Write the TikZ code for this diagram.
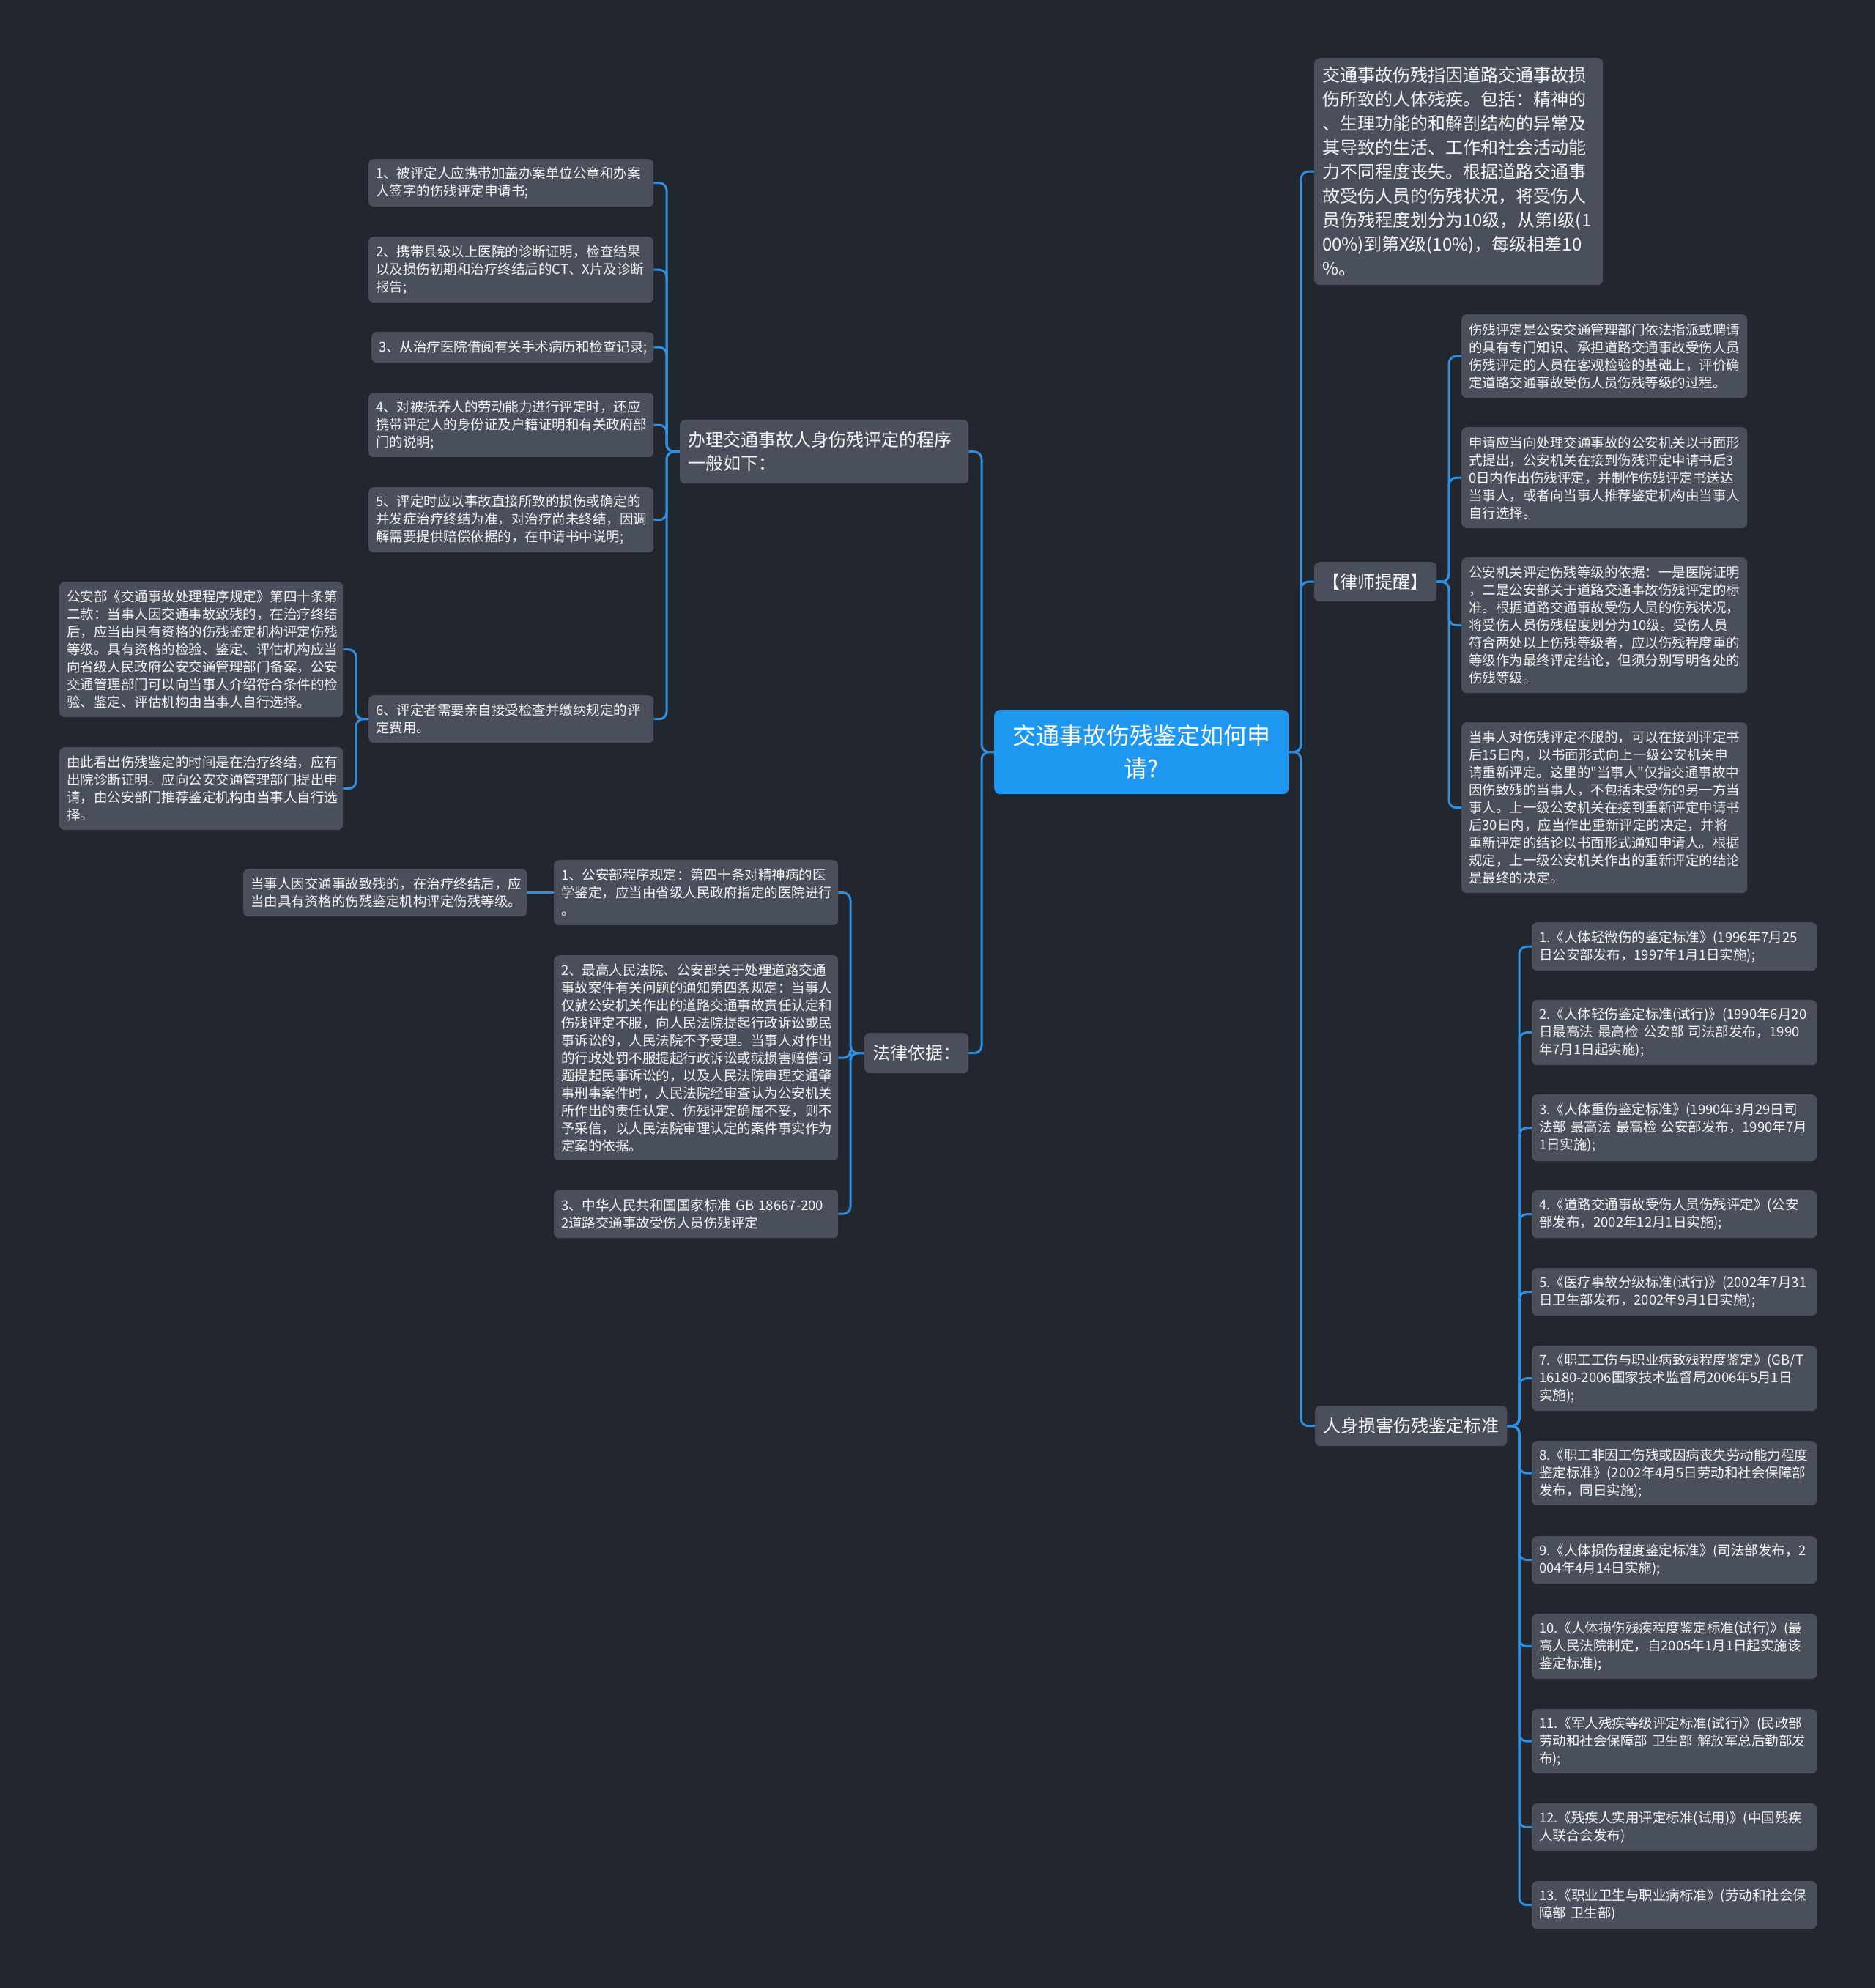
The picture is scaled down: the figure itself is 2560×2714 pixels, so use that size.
\documentclass[tikz,border=0pt]{standalone}
\usepackage{fontspec}
\newfontfamily\cjk{Noto Sans CJK SC}
\definecolor{bgc}{HTML}{22262F}
\definecolor{boxc}{HTML}{4A4F5C}
\definecolor{rootc}{HTML}{1D97F0}
\definecolor{linec}{HTML}{2F8FE0}
\definecolor{txtc}{HTML}{F4F4F4}
\pgfdeclarelayer{bgl}
\pgfdeclarelayer{connl}
\pgfsetlayers{bgl,connl,main}
\tikzset{
  leaf/.style={fill=boxc, rounded corners=7pt, text=txtc, align=left, inner xsep=10pt, inner ysep=0pt,
    font=\cjk\fontsize{18.5}{24}\selectfont, anchor=north west},
  branch/.style={fill=boxc, rounded corners=7pt, text=txtc, align=left, inner xsep=11pt, inner ysep=0pt,
    font=\cjk\fontsize{24}{32}\selectfont, anchor=north west},
  rootbox/.style={fill=rootc, rounded corners=8pt, text=white, align=center, inner xsep=11pt, inner ysep=0pt,
    font=\cjk\fontsize{32}{45}\selectfont, anchor=north west},
  conn/.style={draw=linec, line width=3pt, rounded corners=10pt},
}
\begin{document}
\begin{tikzpicture}[x=1pt,y=-1pt]
\useasboundingbox (0,0) rectangle (2560,2714);
\begin{pgfonlayer}{bgl}
\fill[bgc] (0,0) rectangle (2560,2714);
\end{pgfonlayer}

% trunk coordinates
\coordinate (tL) at (1340,0);
\coordinate (tR) at (1776,0);
\coordinate (tP) at (910,0);
\coordinate (tN) at (486,0);
\coordinate (tW) at (1161,0);
\coordinate (tT) at (1978,0);
\coordinate (tS) at (2074,0);

% root
\node[rootbox, text width=380pt, minimum height=115pt] (root) at (1357,969) {交通事故伤残鉴定如何申\\请?};

% left: procedure
\node[branch, text width=372pt, minimum height=87pt] (proc) at (928,573) {办理交通事故人身伤残评定的程序\\一般如下：};
\node[leaf, text width=369pt, minimum height=65pt] (n1) at (503,217) {1、被评定人应携带加盖办案单位公章和办案\\人签字的伤残评定申请书;};
\node[leaf, text width=369pt, minimum height=90pt] (n2) at (503,323) {2、携带县级以上医院的诊断证明，检查结果\\以及损伤初期和治疗终结后的CT、X片及诊断\\报告;};
\node[leaf, text width=365pt, minimum height=42pt] (n3) at (507,453) {3、从治疗医院借阅有关手术病历和检查记录;};
\node[leaf, text width=369pt, minimum height=88pt] (n4) at (503,536) {4、对被抚养人的劳动能力进行评定时，还应\\携带评定人的身份证及户籍证明和有关政府部\\门的说明;};
\node[leaf, text width=369pt, minimum height=89pt] (n5) at (503,665) {5、评定时应以事故直接所致的损伤或确定的\\并发症治疗终结为准，对治疗尚未终结，因调\\解需要提供赔偿依据的，在申请书中说明;};
\node[leaf, text width=369pt, minimum height=65pt] (n6) at (503,949) {6、评定者需要亲自接受检查并缴纳规定的评\\定费用。};
\node[leaf, text width=367pt, minimum height=185pt] (na) at (81,794) {公安部《交通事故处理程序规定》第四十条第\\二款：当事人因交通事故致残的，在治疗终结\\后，应当由具有资格的伤残鉴定机构评定伤残\\等级。具有资格的检验、鉴定、评估机构应当\\向省级人民政府公安交通管理部门备案，公安\\交通管理部门可以向当事人介绍符合条件的检\\验、鉴定、评估机构由当事人自行选择。};
\node[leaf, text width=367pt, minimum height=113pt] (nb) at (81,1020) {由此看出伤残鉴定的时间是在治疗终结，应有\\出院诊断证明。应向公安交通管理部门提出申\\请，由公安部门推荐鉴定机构由当事人自行选\\择。};

% left: law
\node[branch, minimum width=142pt, minimum height=55pt] (law) at (1180,1410) {法律依据：};
\node[leaf, text width=368pt, minimum height=89pt] (law1) at (756,1174) {1、公安部程序规定：第四十条对精神病的医\\学鉴定，应当由省级人民政府指定的医院进行\\。};
\node[leaf, text width=368pt, minimum height=280pt] (law2) at (756,1304) {2、最高人民法院、公安部关于处理道路交通\\事故案件有关问题的通知第四条规定：当事人\\仅就公安机关作出的道路交通事故责任认定和\\伤残评定不服，向人民法院提起行政诉讼或民\\事诉讼的，人民法院不予受理。当事人对作出\\的行政处罚不服提起行政诉讼或就损害赔偿问\\题提起民事诉讼的，以及人民法院审理交通肇\\事刑事案件时，人民法院经审查认为公安机关\\所作出的责任认定、伤残评定确属不妥，则不\\予采信，以人民法院审理认定的案件事实作为\\定案的依据。};
\node[leaf, text width=368pt, minimum height=66pt] (law3) at (756,1624) {3、中华人民共和国国家标准 GB 18667-200\\2道路交通事故受伤人员伤残评定};
\node[leaf, text width=367pt, minimum height=65pt] (leafl) at (332,1186) {当事人因交通事故致残的，在治疗终结后，应\\当由具有资格的伤残鉴定机构评定伤残等级。};

% right: definition
\node[branch, text width=372pt, minimum height=310pt, font=\cjk\fontsize{24}{33}\selectfont] (def) at (1794,79) {交通事故伤残指因道路交通事故损\\伤所致的人体残疾。包括：精神的\\、生理功能的和解剖结构的异常及\\其导致的生活、工作和社会活动能\\力不同程度丧失。根据道路交通事\\故受伤人员的伤残状况，将受伤人\\员伤残程度划分为10级，从第I级(1\\00\%)到第X级(10\%)，每级相差10\\\%。};

% right: lawyer tips
\node[branch, minimum width=167pt, minimum height=54pt] (lawyer) at (1794,767) {【律师提醒】};
\node[leaf, text width=370pt, minimum height=114pt] (tip1) at (1995,429) {伤残评定是公安交通管理部门依法指派或聘请\\的具有专门知识、承担道路交通事故受伤人员\\伤残评定的人员在客观检验的基础上，评价确\\定道路交通事故受伤人员伤残等级的过程。};
\node[leaf, text width=370pt, minimum height=138pt] (tip2) at (1995,583) {申请应当向处理交通事故的公安机关以书面形\\式提出，公安机关在接到伤残评定申请书后3\\0日内作出伤残评定，并制作伤残评定书送达\\当事人，或者向当事人推荐鉴定机构由当事人\\自行选择。};
\node[leaf, text width=370pt, minimum height=185pt] (tip3) at (1995,761) {公安机关评定伤残等级的依据：一是医院证明\\，二是公安部关于道路交通事故伤残评定的标\\准。根据道路交通事故受伤人员的伤残状况，\\将受伤人员伤残程度划分为10级。受伤人员\\符合两处以上伤残等级者，应以伤残程度重的\\等级作为最终评定结论，但须分别写明各处的\\伤残等级。};
\node[leaf, text width=370pt, minimum height=233pt] (tip4) at (1995,986) {当事人对伤残评定不服的，可以在接到评定书\\后15日内，以书面形式向上一级公安机关申\\请重新评定。这里的"当事人"仅指交通事故中\\因伤致残的当事人，不包括未受伤的另一方当\\事人。上一级公安机关在接到重新评定申请书\\后30日内，应当作出重新评定的决定，并将\\重新评定的结论以书面形式通知申请人。根据\\规定，上一级公安机关作出的重新评定的结论\\是最终的决定。};

% right: standards
\node[branch, minimum width=260pt, minimum height=55pt] (std) at (1795,1919) {人身损害伤残鉴定标准};
\node[leaf, text width=369pt, minimum height=66pt] (s1) at (2091,1259) {1.《人体轻微伤的鉴定标准》(1996年7月25\\日公安部发布，1997年1月1日实施);};
\node[leaf, text width=369pt, minimum height=89pt] (s2) at (2091,1365) {2.《人体轻伤鉴定标准(试行)》(1990年6月20\\日最高法 最高检 公安部 司法部发布，1990\\年7月1日起实施);};
\node[leaf, text width=369pt, minimum height=91pt] (s3) at (2091,1494) {3.《人体重伤鉴定标准》(1990年3月29日司\\法部 最高法 最高检 公安部发布，1990年7月\\1日实施);};
\node[leaf, text width=369pt, minimum height=65pt] (s4) at (2091,1625) {4.《道路交通事故受伤人员伤残评定》(公安\\部发布，2002年12月1日实施);};
\node[leaf, text width=369pt, minimum height=65pt] (s5) at (2091,1731) {5.《医疗事故分级标准(试行)》(2002年7月31\\日卫生部发布，2002年9月1日实施);};
\node[leaf, text width=369pt, minimum height=89pt] (s7) at (2091,1837) {7.《职工工伤与职业病致残程度鉴定》(GB/T\\16180-2006国家技术监督局2006年5月1日\\实施);};
\node[leaf, text width=369pt, minimum height=88pt] (s8) at (2091,1967) {8.《职工非因工伤残或因病丧失劳动能力程度\\鉴定标准》(2002年4月5日劳动和社会保障部\\发布，同日实施);};
\node[leaf, text width=369pt, minimum height=65pt] (s9) at (2091,2097) {9.《人体损伤程度鉴定标准》(司法部发布，2\\004年4月14日实施);};
\node[leaf, text width=369pt, minimum height=89pt] (s10) at (2091,2203) {10.《人体损伤残疾程度鉴定标准(试行)》(最\\高人民法院制定，自2005年1月1日起实施该\\鉴定标准);};
\node[leaf, text width=369pt, minimum height=88pt] (s11) at (2091,2333) {11.《军人残疾等级评定标准(试行)》(民政部\\劳动和社会保障部 卫生部 解放军总后勤部发\\布);};
\node[leaf, text width=369pt, minimum height=65pt] (s12) at (2091,2462) {12.《残疾人实用评定标准(试用)》(中国残疾\\人联合会发布)};
\node[leaf, text width=369pt, minimum height=65pt] (s13) at (2091,2568) {13.《职业卫生与职业病标准》(劳动和社会保\\障部 卫生部)};

% connectors
\begin{pgfonlayer}{connl}
\foreach \nn in {def,lawyer,std}
  \draw[conn] (root.east) -- (root.east -| tR) |- (\nn.west);
\foreach \nn in {proc,law}
  \draw[conn] (root.west) -- (root.west -| tL) |- (\nn.east);
\foreach \nn in {n1,n2,n3,n4,n5,n6}
  \draw[conn] (proc.west) -- (proc.west -| tP) |- (\nn.east);
\foreach \nn in {na,nb}
  \draw[conn] (n6.west) -- (n6.west -| tN) |- (\nn.east);
\foreach \nn in {law1,law2,law3}
  \draw[conn] (law.west) -- (law.west -| tW) |- (\nn.east);
\draw[conn] (law1.west) -- (leafl.east);
\foreach \nn in {tip1,tip2,tip3,tip4}
  \draw[conn] (lawyer.east) -- (lawyer.east -| tT) |- (\nn.west);
\foreach \nn in {s1,s2,s3,s4,s5,s7,s8,s9,s10,s11,s12,s13}
  \draw[conn] (std.east) -- (std.east -| tS) |- (\nn.west);
\end{pgfonlayer}
\end{tikzpicture}
\end{document}
